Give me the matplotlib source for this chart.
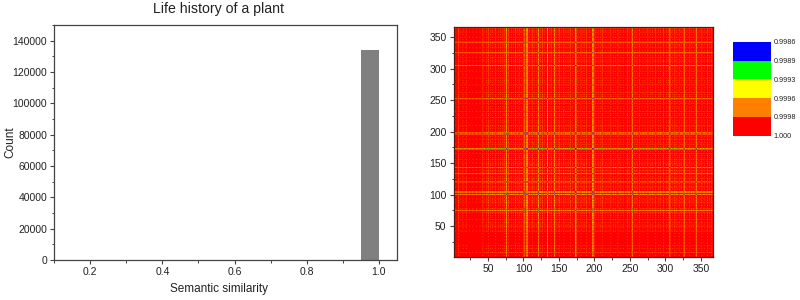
import numpy as np
import matplotlib
matplotlib.use("Agg")
import matplotlib.pyplot as plt
from matplotlib.colors import ListedColormap, BoundaryNorm
from matplotlib.ticker import MultipleLocator

plt.rcParams['font.family'] = ['Liberation Sans', 'DejaVu Sans']

title = "Life history of a plant"
bar_left = [0.95]
bar_width = [0.05]
bar_count = [134000]

matrix_size = 367
strong_idx = [75, 100, 103, 105, 120, 133, 143, 172, 173, 196, 198, 252, 305, 325, 342]
strong_val = [0.75, 0.9, 0.8, 0.8, 0.9, 0.8, 0.85, 1.15, 1.0, 0.95, 0.85, 0.85, 0.8, 0.75, 0.75]
mid_idx = [8, 42, 50, 60, 72, 78, 88, 93, 112, 126, 138, 150, 156, 165, 180, 188, 210, 222,
           232, 245, 262, 274, 285, 296, 312, 318, 333, 350, 358, 364]
mid_val = [0.6] * len(mid_idx)
weak_idx = [14, 19, 47, 53, 56, 64, 67, 70, 82, 85, 91, 96, 108, 110, 115, 118, 123, 129, 136,
            141, 146, 148, 153, 159, 162, 168, 176, 183, 185, 192, 201, 205, 208, 214, 218, 226,
            229, 236, 240, 248, 256, 259, 266, 270, 278, 281, 289, 292, 300, 303, 309, 315, 321,
            329, 336, 339, 346, 354, 361]
weak_val = [0.45] * len(weak_idx)
faint_idx = [3, 11, 17, 23, 28, 33, 38, 44, 49, 55, 58, 62, 66, 69, 74, 80, 83, 87, 90, 95,
             98, 107, 113, 117, 122, 125, 131, 135, 139, 144, 149, 152, 155, 158, 161, 164,
             170, 175, 178, 182, 187, 191, 194, 200, 203, 207, 212, 216, 220, 225, 228, 234,
             238, 243, 247, 251, 255, 258, 264, 268, 272, 276, 280, 283, 287, 291, 294, 298,
             302, 307, 311, 314, 320, 323, 327, 331, 335, 338, 344, 348, 352, 356, 360, 363]
faint_val = [0.35] * len(faint_idx)

bar_levels = [0.9986, 0.9989, 0.9993, 0.9996, 0.9998, 1.0]
level_labels = ["0.9986", "0.9989", "0.9993", "0.9996", "0.9998", "1.000"]
level_colors = ["#0000ff", "#00ff00", "#ffff00", "#ff8000", "#ff0000"]

fig = plt.figure(figsize=(8, 3), dpi=100)
W, H = 800, 300
def box(l, t, r, b):
    return [l / W, 1 - b / H, (r - l) / W, (b - t) / H]

spine_col = "#444444"
text_col = "#222222"

# histogram
ax = fig.add_axes(box(54, 25, 397, 260))
ax.bar(bar_left, bar_count, width=bar_width, align="edge", color="#808080")
ax.set_xlim(0.1, 1.05)
ax.set_ylim(0, 150000)
ax.xaxis.set_minor_locator(MultipleLocator(0.1))
ax.yaxis.set_minor_locator(MultipleLocator(10000))
ax.set_xticks([0.2, 0.4, 0.6, 0.8, 1.0])
ax.set_yticks(range(0, 140001, 20000))
ax.tick_params(which="major", length=3, width=0.8, color=spine_col, labelsize=7.5,
               labelcolor=text_col, pad=2)
ax.tick_params(which="minor", length=1.8, width=0.7, color=spine_col)
for s in ax.spines.values():
    s.set_linewidth(0.9)
    s.set_color(spine_col)
fig.text(219 / W, 1 - 289 / H, "Semantic similarity", fontsize=8.5, color=text_col,
         ha="center", va="center")
fig.text(10 / W, 1 - 142 / H, "Count", fontsize=8.5, color=text_col, rotation=90,
         ha="center", va="center")
fig.text(218 / W, 1 - 9.5 / H, title, fontsize=10.2, color=text_col, ha="center", va="center")

# similarity matrix
strength = np.zeros(matrix_size + 1)
strength[faint_idx] = faint_val
strength[weak_idx] = weak_val
strength[mid_idx] = mid_val
strength[strong_idx] = strong_val
line_floor = np.zeros(matrix_size + 1)
line_floor[strong_idx] = strong_val
matrix = (1.0 - 0.001 * strength[:, None] * strength[None, :]
          - 0.00027 * (line_floor[:, None] + line_floor[None, :]))

cmap = ListedColormap(level_colors)
norm = BoundaryNorm(bar_levels, cmap.N, clip=True)
ax2 = fig.add_axes(box(453.5, 27, 713, 257))
ax2.imshow(matrix, origin="lower", cmap=cmap, norm=norm, aspect="auto",
           interpolation="antialiased", interpolation_stage="rgba",
           extent=[-0.5, matrix_size + 0.5, -0.5, matrix_size + 0.5])
ax2.set_xlim(1.4, 367)
ax2.set_ylim(0.8, 366)
ax2.xaxis.set_major_locator(MultipleLocator(50))
ax2.xaxis.set_minor_locator(MultipleLocator(25))
ax2.yaxis.set_major_locator(MultipleLocator(50))
ax2.yaxis.set_minor_locator(MultipleLocator(25))
ax2.tick_params(which="major", length=3, width=0.8, color=spine_col, labelsize=7.5,
                labelcolor=text_col, pad=2)
ax2.tick_params(which="minor", length=1.8, width=0.7, color=spine_col)
for s in ax2.spines.values():
    s.set_linewidth(0.9)
    s.set_color("#5a1a10")

# colour key (1.000 at the bottom, 0.9986 on top)
cax = fig.add_axes(box(733, 42, 771, 135.5))
edges = np.arange(len(bar_levels))
cax.pcolormesh([0, 1], edges, np.arange(len(level_colors))[::-1].reshape(-1, 1),
               cmap=ListedColormap(level_colors), shading="flat")
cax.set_xlim(0, 1)
cax.set_ylim(0, len(level_colors))
cax.set_xticks([])
cax.yaxis.tick_right()
cax.set_yticks(edges)
cax.set_yticklabels(level_labels[::-1], fontsize=5.2, color=text_col)
cax.tick_params(axis="y", length=0, pad=2)
for s in cax.spines.values():
    s.set_visible(False)

fig.savefig("out.png", dpi=100)
